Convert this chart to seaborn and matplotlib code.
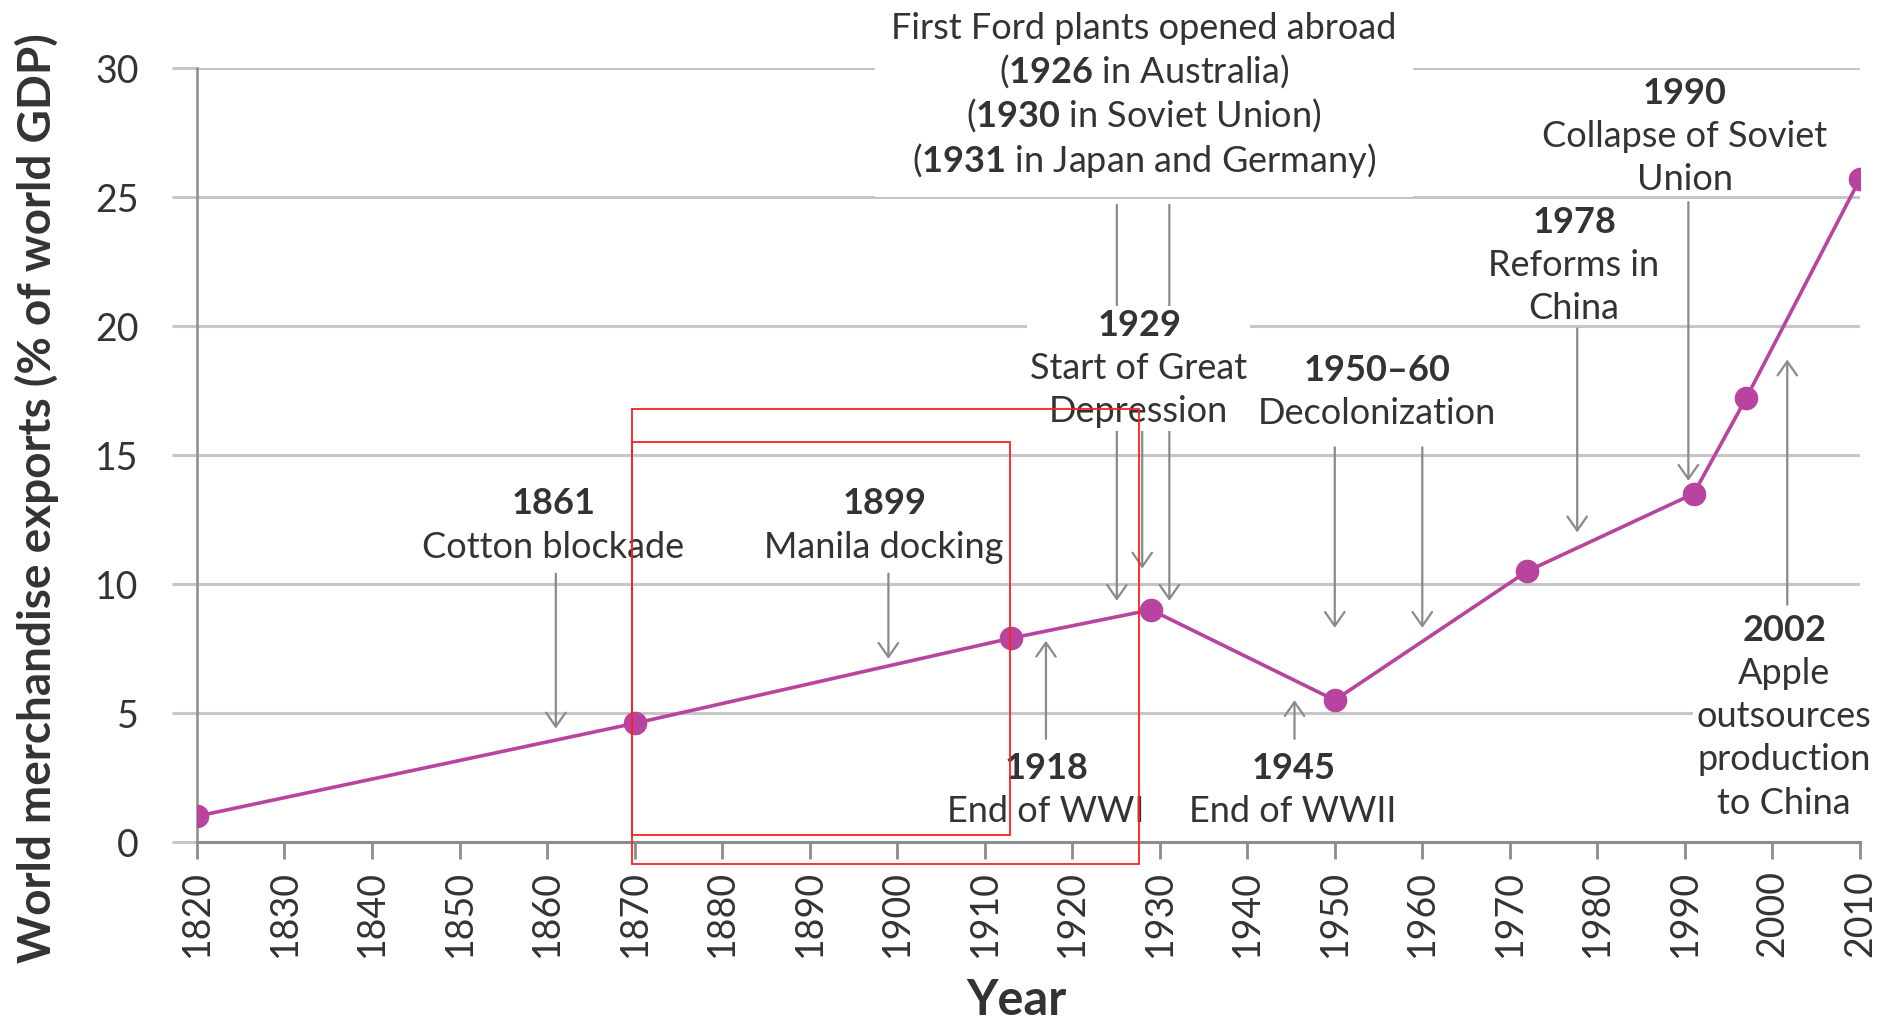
import matplotlib
matplotlib.use("Agg")
import matplotlib.pyplot as plt
import seaborn as sns
import pandas as pd
from matplotlib.patches import Rectangle

# Dados
years = [1820, 1870, 1913, 1929, 1950, 1972, 1991, 1997, 2010]
exports = [1.0, 4.6, 7.9, 9.0, 5.5, 10.5, 13.5, 17.2, 25.7]

x_ticks = list(range(1820, 2011, 10))
y_ticks = [0, 5, 10, 15, 20, 25, 30]

# Anotações (texto, centro do bloco, margem do fundo branco, espaçamento)
note_text = [
    "$\\mathbf{1861}$\nCotton blockade",
    "$\\mathbf{1899}$\nManila docking",
    "$\\mathbf{1918}$\nEnd of WWI",
    "$\\mathbf{1929}$\nStart of Great\nDepression",
    "$\\mathbf{1945}$\nEnd of WWII",
    "$\\mathbf{1950–60}$\nDecolonization",
    "$\\mathbf{1978}$\nReforms in\nChina",
    "$\\mathbf{1990}$\nCollapse of Soviet\nUnion",
    "$\\mathbf{2002}$\nApple\noutsources\nproduction\nto China",
    "First Ford plants opened abroad\n($\\mathbf{1926}$ in Australia)\n"
    "($\\mathbf{1930}$ in Soviet Union)\n($\\mathbf{1931}$ in Japan and Germany)",
]
note_x = [1860.7, 1898.5, 1917.0, 1927.6, 1945.2, 1954.8, 1977.3, 1990.0, 2001.3, 1928.2]
note_y = [12.27, 12.27, 2.03, 18.36, 2.03, 17.43, 22.34, 27.34, 4.86, 28.9]
note_pad = [None, None, None, 0.08, None, None, None, None, 0.08, 0.45]
note_ls = [1.38] * 9 + [1.22]

# Setas: ano, início, ponta
arrow_x = [1861, 1899, 1925.1, 1928, 1931.1, 1917, 1945.4, 1950, 1960, 1977.7, 1990.4, 2001.7]
arrow_from = [10.4, 10.4, 24.7, 16.2, 24.7, 4.0, 4.0, 15.3, 15.3, 19.9, 24.8, 9.2]
arrow_to = [4.4, 7.1, 9.35, 10.6, 9.35, 7.8, 5.5, 8.3, 8.3, 12.0, 14.0, 18.7]

df = pd.DataFrame({"year": years, "exports": exports})

sns.set_theme(style="white")
plt.rcParams["font.family"] = ["Lato", "DejaVu Sans"]
plt.rcParams["mathtext.fontset"] = "custom"
plt.rcParams["mathtext.rm"] = "Lato"
plt.rcParams["mathtext.bf"] = "Lato:bold"

txt = "#333333"
grid_c = "#c6c6c6"
spine_c = "#8c8c8c"
purple = "#b8449f"

fig = plt.figure(figsize=(18.94, 10.26), dpi=100)
ax = fig.add_axes([0.104, 0.1793, 0.878, 0.7544])

ax.set_xlim(1820, 2010)
ax.set_ylim(0, 30)
for v in y_ticks[1:]:
    ax.axhline(v, color=grid_c, lw=2.2, zorder=1)

sns.lineplot(data=df, x="year", y="exports", ax=ax, color=purple, lw=2.6,
             marker="o", markersize=17, markeredgewidth=0, zorder=5)

for x, y0, y1 in zip(arrow_x, arrow_from, arrow_to):
    ax.annotate("", xy=(x, y1), xytext=(x, y0),
                arrowprops=dict(arrowstyle="->,head_length=0.5,head_width=0.35",
                                color="#8a8a8a", lw=1.6, shrinkA=0, shrinkB=0,
                                mutation_scale=20), zorder=2)

for t, x, y, p, ls in zip(note_text, note_x, note_y, note_pad, note_ls):
    kw = {}
    if p is not None:
        kw["bbox"] = dict(boxstyle=f"square,pad={p}", fc="white", ec="none")
    ax.text(x, y, t, ha="center", va="center", multialignment="center",
            fontsize=26, color=txt, linespacing=ls, zorder=4, **kw)

# Caixas vermelhas sobrepostas
ax.add_patch(Rectangle((1869.7, -0.84), 1927.6 - 1869.7, 16.8 + 0.84, fill=False,
                       ec="#ff2020", lw=1.3, clip_on=False, zorder=6))
ax.add_patch(Rectangle((1869.7, 0.28), 1912.9 - 1869.7, 15.5 - 0.28, fill=False,
                       ec="#ff2020", lw=1.3, clip_on=False, zorder=6))

ax.set_xticks(x_ticks)
ax.set_yticks(y_ticks)
ax.tick_params(axis="x", rotation=90, labelsize=27, colors=spine_c, labelcolor=txt,
               length=12, width=2, pad=8, direction="out", bottom=True)
ax.tick_params(axis="y", labelsize=27, colors=grid_c, labelcolor=txt,
               length=18, width=2.2, pad=24, direction="out", left=True)

for s in ["top", "right"]:
    ax.spines[s].set_visible(False)
ax.spines["left"].set_color(spine_c)
ax.spines["left"].set_linewidth(1.8)
ax.spines["bottom"].set_color(spine_c)
ax.spines["bottom"].set_linewidth(2.2)

ax.set_xlabel("Year", fontsize=35, fontweight="bold", color=txt)
ax.set_ylabel("World merchandise exports (% of world GDP)", fontsize=33,
              fontweight="bold", color=txt)
ax.xaxis.set_label_coords(0.4925, -0.176)
ax.yaxis.set_label_coords(-0.083, 0.444)

fig.savefig("out.png", dpi=100, facecolor="white")
